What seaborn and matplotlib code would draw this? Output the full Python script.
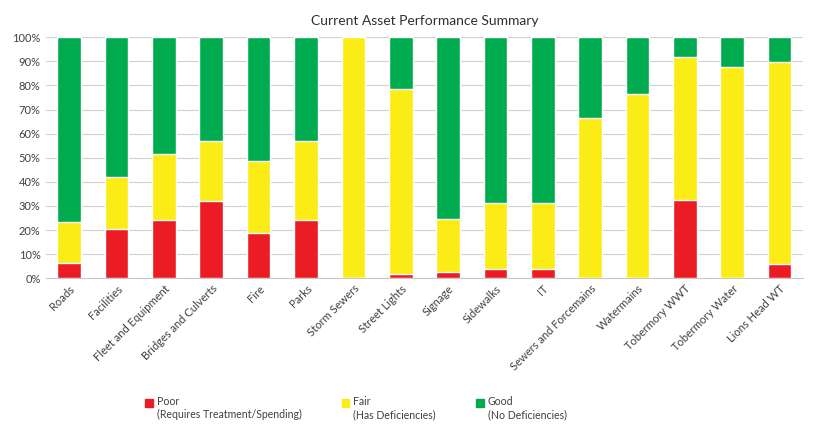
import pandas as pd
import matplotlib.pyplot as plt
import seaborn as sns
from matplotlib.patches import Patch
from matplotlib.ticker import PercentFormatter

categories = ["Roads", "Facilities", "Fleet and Equipment", "Bridges and Culverts", "Fire",
              "Parks", "Storm Sewers", "Street Lights", "Signage", "Sidewalks", "IT",
              "Sewers and Forcemains", "Watermains", "Tobermory WWT", "Tobermory Water",
              "Lions Head WT"]
poor = [6.5, 20.3, 24.0, 31.9, 18.9, 24.3, 0, 1.8, 2.5, 3.7, 3.7, 0, 0, 32.5, 0, 5.7]
fair = [16.8, 21.8, 27.5, 25.0, 29.9, 32.6, 100, 76.8, 21.9, 27.6, 27.5, 66.3, 76.6, 59.2, 87.7, 84.2]
good = [100 - p - f for p, f in zip(poor, fair)]

red = "#ec1c24"
yellow = "#fbec16"
green = "#00ac4f"

df = pd.DataFrame({"Asset": categories, "Poor": poor, "Fair": fair, "Good": good})
df["PoorFair"] = df["Poor"] + df["Fair"]
df["Total"] = df["PoorFair"] + df["Good"]

sns.set_style("white")
plt.rcParams["font.family"] = ["Lato", "DejaVu Sans"]

fig, ax = plt.subplots(figsize=(8.13, 4.28), dpi=100)
fig.subplots_adjust(left=0.056, right=0.988, top=0.913, bottom=0.35)

# stacked bars drawn as overlapping cumulative totals
sns.barplot(data=df, x="Asset", y="Total", color=green, width=0.5, saturation=1, ax=ax, zorder=2)
sns.barplot(data=df, x="Asset", y="PoorFair", color=yellow, width=0.5, saturation=1, ax=ax, zorder=3)
sns.barplot(data=df, x="Asset", y="Poor", color=red, width=0.5, saturation=1, ax=ax, zorder=4)

ax.set_ylim(0, 100)
ax.set_yticks(range(0, 101, 10))
ax.yaxis.set_major_formatter(PercentFormatter(decimals=0))
ax.yaxis.grid(True, color="#d0d0d0", linewidth=0.8, zorder=0)
ax.set_axisbelow(True)
for s in ["top", "right", "left"]:
    ax.spines[s].set_visible(False)
ax.spines["bottom"].set_color("#c8c8c8")
ax.set_xlim(-0.5, len(categories) - 0.5)
ax.tick_params(axis="both", length=0, labelsize=8, colors="#404040")
ax.set_xticks(range(len(categories)))
ax.set_xticklabels(categories, rotation=45, ha="right", rotation_mode="anchor")
ax.set_xlabel("")
ax.set_ylabel("")
ax.set_title("Current Asset Performance Summary", fontsize=10, color="#303030", pad=9)

handles = [Patch(color=red), Patch(color=yellow), Patch(color=green)]
labels = ["Poor\n(Requires Treatment/Spending)", "Fair\n(Has Deficiencies)", "Good\n(No Deficiencies)"]
leg = fig.legend(handles, labels, loc="lower left", bbox_to_anchor=(0.167, -0.004), ncol=3,
                 frameon=False, fontsize=7.6, handlelength=0.7, handleheight=0.7,
                 handletextpad=0.4, columnspacing=3.8, labelcolor="#404040",
                 labelspacing=0.6)
# put the swatch next to the first line of each label
for h in leg.legend_handles:
    h.set_y(h.get_y() + 4.5)

fig.savefig("out.png", dpi=100)
